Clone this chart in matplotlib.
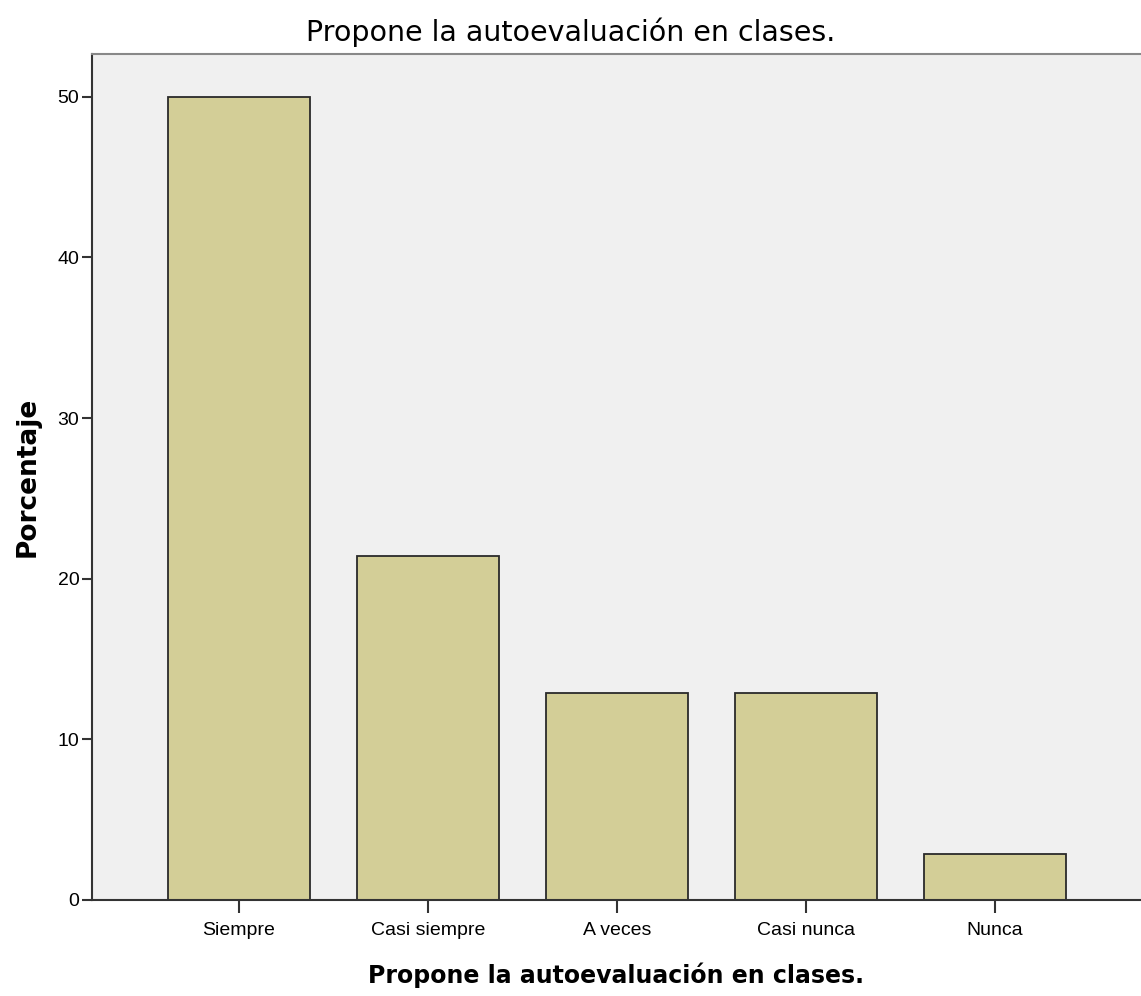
import matplotlib.pyplot as plt

# data (n = 70)
categories = ['Siempre', 'Casi siempre', 'A veces', 'Casi nunca', 'Nunca']
percentages = [50.0, 21.43, 12.86, 12.86, 2.86]
y_ticks = [0, 10, 20, 30, 40, 50]

plt.rcParams['font.family'] = ['Liberation Sans', 'DejaVu Sans']

fig = plt.figure(figsize=(11.41, 9.96), dpi=100)
ax = fig.add_axes([0.0806, 0.0964, 0.9194, 0.8494])
ax.set_facecolor('#F0F0F0')

x = list(range(len(categories)))
ax.bar(x, percentages, width=0.75, color='#D3CE97', edgecolor='#2a2a2a', linewidth=1.3, zorder=2)

ax.set_xlim(-0.778, 4.772)
ax.set_ylim(0, 52.66)
ax.set_xticks(x)
ax.set_xticklabels(categories, fontsize=14)
ax.set_yticks(y_ticks)
ax.set_yticklabels([str(t) for t in y_ticks], fontsize=14)
ax.tick_params(axis='y', direction='out', length=7, width=1.5, color='#333333', pad=2)
ax.tick_params(axis='x', direction='out', length=9, width=1.5, color='#333333', pad=7)

for side in ['left', 'bottom']:
    ax.spines[side].set_color('#333333')
    ax.spines[side].set_linewidth(1.5)
ax.spines['top'].set_color('#888888')
ax.spines['top'].set_linewidth(1.5)
ax.spines['right'].set_visible(False)

ax.set_xlabel('Propone la autoevaluación en clases.', fontsize=17, fontweight='bold',
              family='DejaVu Sans', labelpad=17)
ax.set_ylabel('Porcentaje', fontsize=19, fontweight='bold', family='DejaVu Sans', labelpad=12)
fig.suptitle('Propone la autoevaluación en clases.', fontsize=20.5, family='DejaVu Sans',
             x=0.5, y=0.982)

fig.savefig('out.png', dpi=100, facecolor='white')
